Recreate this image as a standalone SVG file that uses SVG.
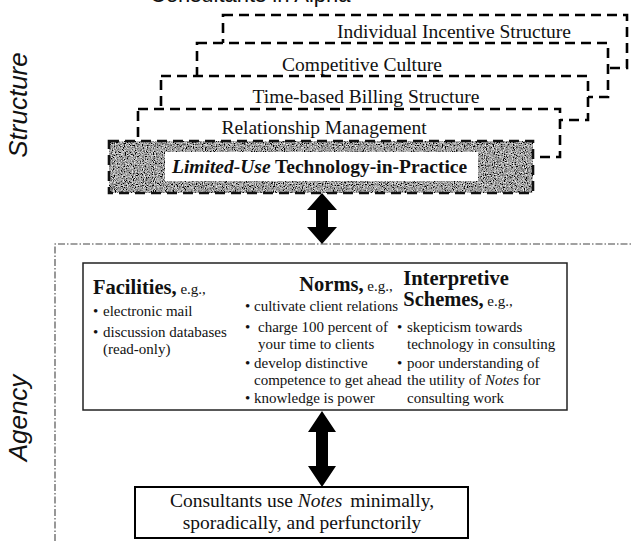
<svg xmlns="http://www.w3.org/2000/svg" width="631" height="541" viewBox="0 0 631 541">
<style>
.dbox{fill:#fff;stroke:#000;stroke-width:2.6;stroke-dasharray:10 6}
.lbl{font-family:"Liberation Serif","Times New Roman",serif;font-size:19.5px;fill:#111}
.side{font-family:"Liberation Sans",Arial,sans-serif;font-size:26px;font-style:italic;fill:#111}
.hd{font-family:"Liberation Serif","Times New Roman",serif;font-size:20.5px;font-weight:bold;fill:#111}
.eg{font-weight:normal;font-size:15px}
.it{font-family:"Liberation Serif","Times New Roman",serif;font-size:15px;fill:#111}
.frame{fill:none;stroke:#444;stroke-width:1.1;stroke-dasharray:7 2 1.5 2}
.arrow{fill:#000}
</style>
<defs>
<filter id="grain" x="0" y="0" width="100%" height="100%">
<feTurbulence type="fractalNoise" baseFrequency="0.9" numOctaves="2" seed="4" result="n"/>
<feColorMatrix in="n" type="matrix" values="1.8 0 0 0 -0.55  1.8 0 0 0 -0.55  1.8 0 0 0 -0.55  0 0 0 0 1"/>
</filter>
</defs>

<text x="150" y="2" font-family="Liberation Sans,Arial,sans-serif" font-size="22" fill="#111">Consultants in Alpha</text>

<text class="side" transform="translate(27,105) rotate(-90)" text-anchor="middle">Structure</text>
<text class="side" transform="translate(27,418) rotate(-90)" text-anchor="middle">Agency</text>

<g id="individual-incentive">
<rect class="dbox" x="223" y="15" width="404" height="53"/>
<text class="lbl" x="454" y="38" text-anchor="middle">Individual Incentive Structure</text>
</g>
<g id="competitive-culture">
<rect class="dbox" x="197" y="43" width="411" height="54"/>
<text class="lbl" x="362" y="71" text-anchor="middle">Competitive Culture</text>
</g>
<g id="time-billing">
<rect class="dbox" x="161" y="76" width="427" height="44"/>
<text class="lbl" x="366" y="103" text-anchor="middle">Time-based Billing Structure</text>
</g>
<g id="relationship-management">
<rect class="dbox" x="138" y="109" width="422" height="48"/>
<text class="lbl" x="324" y="134" text-anchor="middle">Relationship Management</text>
</g>
<g id="limited-use">
<rect x="109" y="141" width="424" height="52" fill="#444" filter="url(#grain)"/>
<rect x="109" y="141" width="424" height="52" fill="none" stroke="#111" stroke-width="2.6" stroke-dasharray="10 6"/>
<rect x="165" y="152" width="313" height="29" fill="#fff"/>
<text class="lbl" x="172" y="173" font-weight="bold"><tspan font-style="italic">Limited-Use</tspan> Technology-in-Practice</text>
</g>

<g id="agency-frame">
<path class="frame" d="M55,541 V244 H631"/>
</g>

<g id="agency-box">
<rect x="83" y="263" width="484" height="147" fill="#fff" stroke="#222" stroke-width="1.5"/>
<text class="hd" x="93" y="294">Facilities,<tspan class="eg"> e.g.,</tspan></text>
<text class="it" x="93" y="316">•<tspan x="103">electronic mail</tspan></text>
<text class="it" x="93" y="337">•<tspan x="103">discussion databases</tspan></text>
<text class="it" x="103" y="354">(read-only)</text>

<text class="hd" x="346" y="291" text-anchor="middle">Norms,<tspan class="eg"> e.g.,</tspan></text>
<text class="it" x="245" y="311">•<tspan x="254">cultivate client relations</tspan></text>
<text class="it" x="245" y="332">•<tspan x="258">charge 100 percent of</tspan></text>
<text class="it" x="258" y="349">your time to clients</text>
<text class="it" x="245" y="368">•<tspan x="254">develop distinctive</tspan></text>
<text class="it" x="254" y="385">competence to get ahead</text>
<text class="it" x="245" y="403">•<tspan x="254">knowledge is power</tspan></text>

<text class="hd" x="456" y="285" text-anchor="middle">Interpretive</text>
<text class="hd" x="458" y="306" text-anchor="middle">Schemes,<tspan class="eg"> e.g.,</tspan></text>
<text class="it" x="397" y="332">•<tspan x="407">skepticism towards</tspan></text>
<text class="it" x="407" y="349">technology in consulting</text>
<text class="it" x="397" y="368">•<tspan x="407">poor understanding of</tspan></text>
<text class="it" x="407" y="385">the utility of <tspan font-style="italic">Notes</tspan> for</text>
<text class="it" x="407" y="403">consulting work</text>
</g>

<g id="outcome">
<rect x="135" y="487" width="333" height="51" fill="#fff" stroke="#000" stroke-width="2"/>
<text class="lbl" x="302" y="507" text-anchor="middle">Consultants use <tspan font-style="italic">Notes</tspan><tspan dx="8">minimally,</tspan></text>
<text class="lbl" x="302" y="529" text-anchor="middle">sporadically, and perfunctorily</text>
</g>

<g id="connectors">
<polygon class="arrow" points="322,193 337,210 328,210 328,227 337,227 322,244 307,227 316,227 316,210 307,210"/>
<polygon class="arrow" points="322,411 336,432 328,432 328,466 336,466 322,487 308,466 316,466 316,432 308,432"/>
</g>
</svg>
